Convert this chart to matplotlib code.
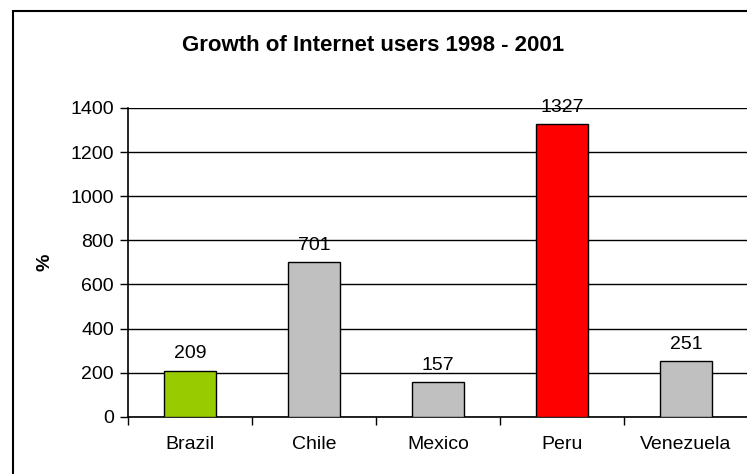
import matplotlib.pyplot as plt
from matplotlib.patches import Rectangle

plt.rcParams['font.family'] = ['Liberation Sans', 'DejaVu Sans']

countries = ['Brazil', 'Chile', 'Mexico', 'Peru', 'Venezuela']
growth = [209, 701, 157, 1327, 251]
colors = ['#99CC00', '#C0C0C0', '#C0C0C0', '#FF0000', '#C0C0C0']

fig = plt.figure(figsize=(7.47, 4.74), dpi=100)
ax = fig.add_axes([128 / 747, 1 - 416.7 / 474, 620 / 747, 308.7 / 474])

x = range(len(countries))
bars = ax.bar(x, growth, width=0.42, color=colors, edgecolor='black', linewidth=1, zorder=3)

for xi, v in zip(x, growth):
    ax.annotate(str(v), (xi, v), xytext=(0, 6), textcoords='offset points',
                ha='center', va='bottom', fontsize=14)

ax.set_xlim(-0.5, 4.5)
ax.set_ylim(0, 1400)
ax.set_yticks(range(0, 1401, 200))
ax.yaxis.grid(True, color='black', linewidth=1)
ax.set_axisbelow(True)

ax.set_xticks(list(x))
ax.set_xticklabels(countries, fontsize=14)
ax.set_xticks([i + 0.5 for i in range(-1, 5)], minor=True)
ax.tick_params(axis='x', which='major', length=0, pad=14)
ax.tick_params(axis='x', which='minor', length=6, width=1, direction='out')
ax.tick_params(axis='y', length=6, width=1, direction='out', labelsize=14, pad=4)

for s in ['top', 'right']:
    ax.spines[s].set_visible(False)
for s in ['left', 'bottom']:
    ax.spines[s].set_linewidth(1.2)

ax.set_ylabel('%', fontsize=14, fontweight='bold', labelpad=12)

fig.text(373 / 747, 1 - 45 / 474, 'Growth of Internet users 1998 - 2001',
         ha='center', va='center', fontsize=16, fontweight='bold')

fig.patches.append(Rectangle((13 / 747, -0.05), 1.0, 1 - 11 / 474 + 0.05,
                             transform=fig.transFigure, fill=False,
                             edgecolor='black', linewidth=1.5))

fig.savefig('out.png', dpi=100)
